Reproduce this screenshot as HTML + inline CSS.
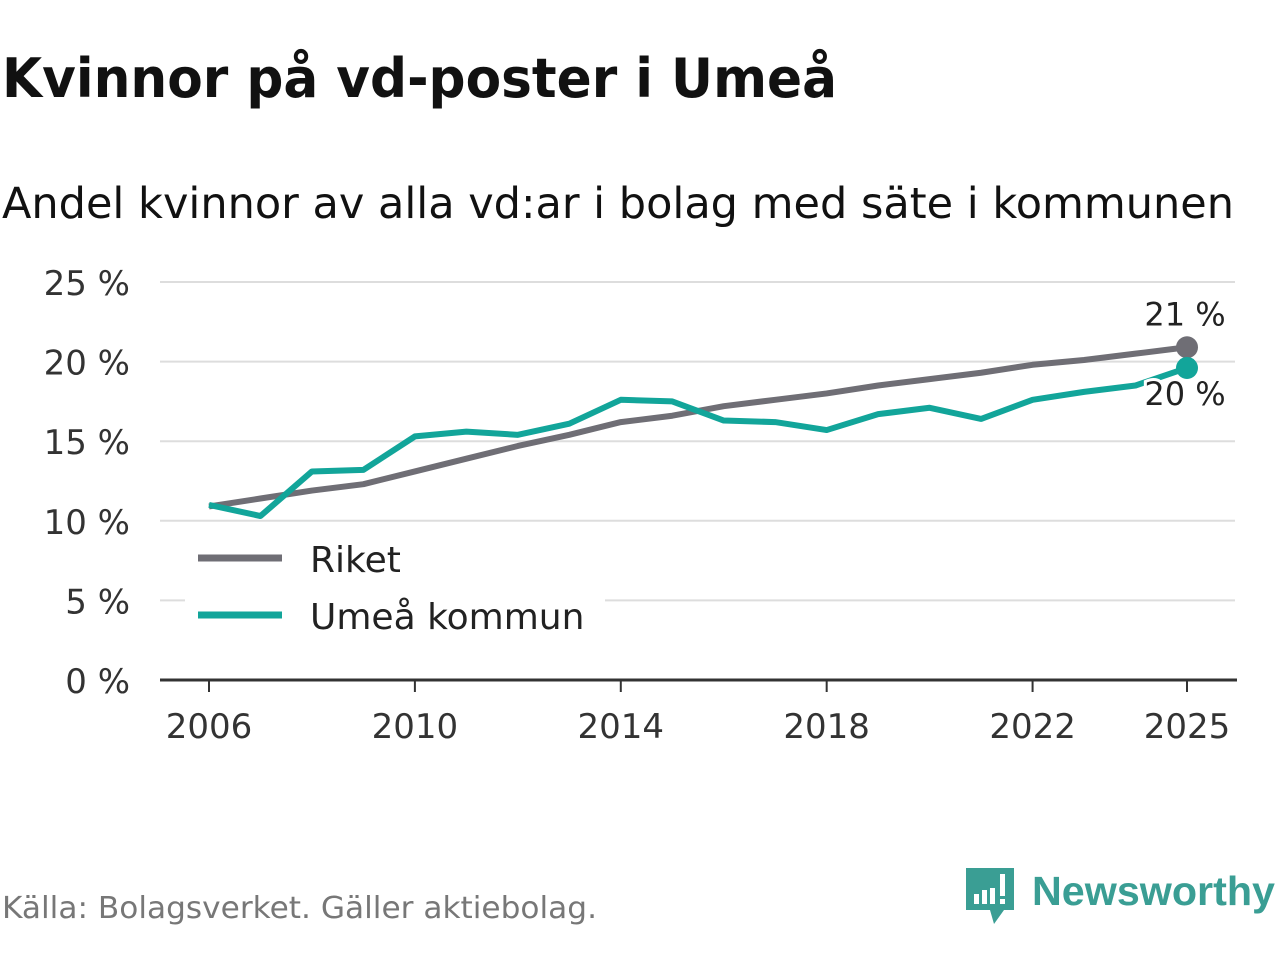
<!DOCTYPE html>
<html><head><meta charset="utf-8"><style>
body{margin:0;width:1280px;height:960px;background:#fff;font-family:"DejaVu Sans","Liberation Sans",sans-serif;overflow:hidden}
svg{position:absolute;left:0;top:0}
</style></head><body>
<svg width="1280" height="960">
<text x="2" y="97" font-size="54" font-weight="bold" fill="#111" textLength="835" lengthAdjust="spacingAndGlyphs">Kvinnor på vd-poster i Umeå</text>
<text x="2" y="218" font-size="43" fill="#111" textLength="1232" lengthAdjust="spacingAndGlyphs">Andel kvinnor av alla vd:ar i bolag med säte i kommunen</text>
<g id="grid"></g><g id="yt"></g><g id="xt"></g><g id="lines"></g>
<rect x="185" y="535" width="420" height="105" fill="#fff"/>
<line x1="198" y1="558" x2="282" y2="558" stroke="#6f6e75" stroke-width="7"/>
<text x="310" y="572" font-size="36" fill="#222">Riket</text>
<line x1="198" y1="615" x2="282" y2="615" stroke="#12a59a" stroke-width="7"/>
<text x="310" y="629" font-size="36" fill="#222">Umeå kommun</text>
<text x="2" y="918" font-size="30" fill="#777" textLength="595" lengthAdjust="spacingAndGlyphs">Källa: Bolagsverket. Gäller aktiebolag.</text>
<g>
<path d="M966 868h48v42h-10l-10 14l-4-14h-24z" fill="#3a9e94"/>
<rect x="974" y="894" width="5" height="10" fill="#fff"/><rect x="982" y="890" width="5" height="14" fill="#fff"/><rect x="990" y="888" width="5" height="16" fill="#fff"/><rect x="1000" y="874" width="5" height="22" fill="#fff"/><rect x="1000" y="899" width="5" height="5" fill="#fff"/>
<text x="1032" y="905" font-size="41" font-weight="bold" fill="#3a9e94" font-family="Liberation Sans,sans-serif" textLength="243" lengthAdjust="spacingAndGlyphs">Newsworthy</text>
</g>
</svg>
<script>
const years=[2006,2007,2008,2009,2010,2011,2012,2013,2014,2015,2016,2017,2018,2019,2020,2021,2022,2023,2024,2025];
const riket=[10.9,11.4,11.9,12.3,13.1,13.9,14.7,15.4,16.2,16.6,17.2,17.6,18.0,18.5,18.9,19.3,19.8,20.1,20.5,20.9];
const umea=[11.0,10.3,13.1,13.2,15.3,15.6,15.4,16.1,17.6,17.5,16.3,16.2,15.7,16.7,17.1,16.4,17.6,18.1,18.5,19.6];
const yTicks=[0,5,10,15,20,25];
const xTicks=[2006,2010,2014,2018,2022,2025];
const NS="http://www.w3.org/2000/svg";
const X=y=>209+(y-2006)*(1187-209)/19, Y=v=>680-v*(398/25);
function mk(t,a,p){const e=document.createElementNS(NS,t);for(const k in a)e.setAttribute(k,a[k]);document.getElementById(p).appendChild(e);return e;}
yTicks.forEach(v=>{
 if(v>0){const g=mk('line',{x1:160,x2:1235,y1:Y(v),y2:Y(v),stroke:'#ddd','stroke-width':2},'grid');
 
 }
 const t=mk('text',{x:130,y:Y(v)+13,'text-anchor':'end','font-size':34,fill:'#333'},'yt');t.textContent=v+' %';
 
 
});
const ax=mk('line',{x1:160,x2:1237,y1:680,y2:680,stroke:'#333','stroke-width':3},'grid');


xTicks.forEach(yr=>{
 const l=mk('line',{x1:X(yr),x2:X(yr),y1:680,y2:692,stroke:'#333','stroke-width':2},'xt');
 
 
 const t=mk('text',{x:X(yr),y:738,'text-anchor':'middle','font-size':34,fill:'#333'},'xt');t.textContent=yr;
 
 
});
function series(d,c,n){
 const p=mk('polyline',{points:d.map((v,i)=>X(years[i])+','+Y(v)).join(' '),fill:'none',stroke:c,'stroke-width':6,'stroke-linejoin':'round'},'lines');
 
 
 const c2=mk('circle',{cx:X(years[years.length-1]),cy:Y(d[d.length-1]),r:11,fill:c},'lines');
 
 
}
series(riket,'#6f6e75','riket');
series(umea,'#12a59a','umea');
const l1=mk('text',{x:1185,y:Y(riket[19])-22,'text-anchor':'middle','font-size':32,fill:'#222'},'lines');l1.textContent=Math.round(riket[19])+' %';


const l2=mk('text',{x:1185,y:Y(umea[19])+37,'text-anchor':'middle','font-size':32,fill:'#222',stroke:'#fff','stroke-width':6,'paint-order':'stroke'},'lines');l2.textContent=Math.round(umea[19])+' %';


</script>
</body></html>
